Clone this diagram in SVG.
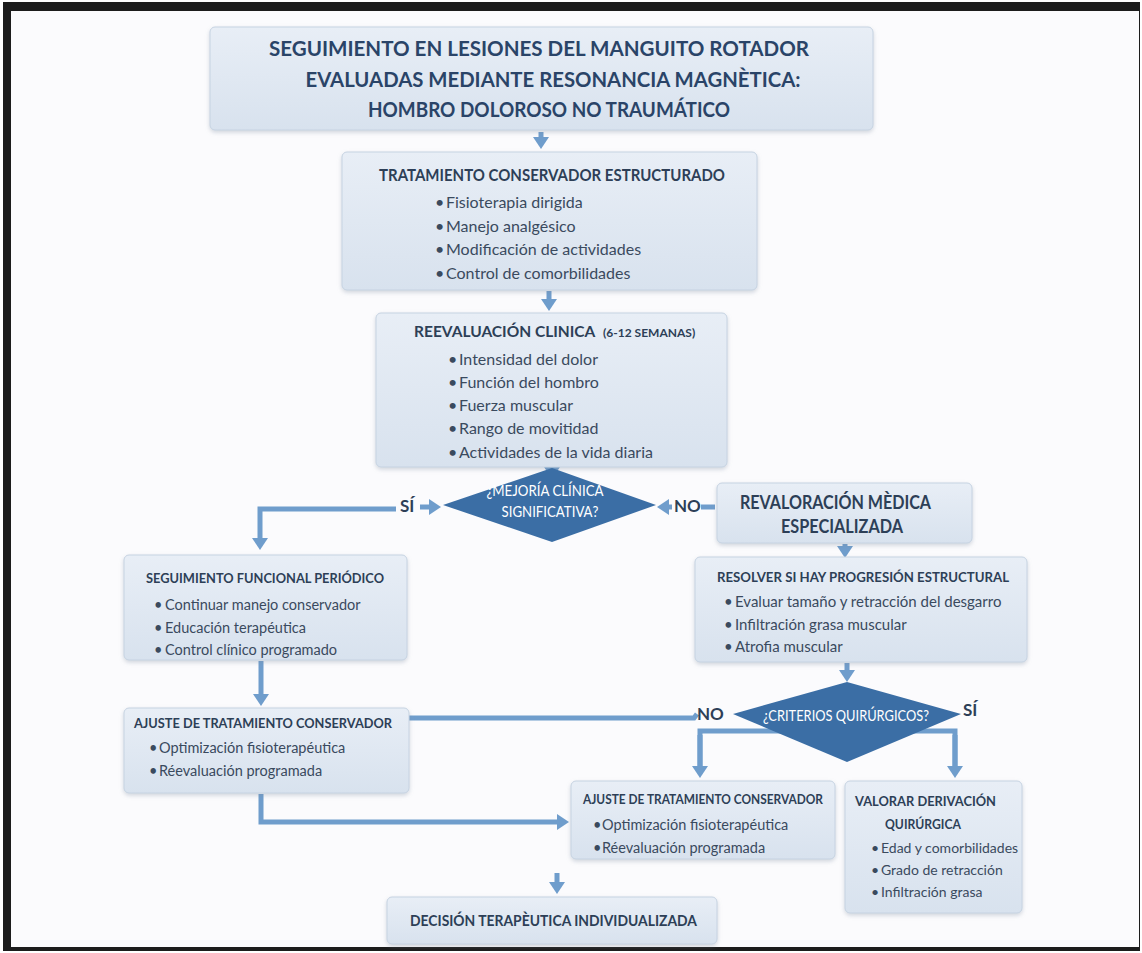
<svg xmlns="http://www.w3.org/2000/svg" width="1142" height="953" viewBox="0 0 1142 953">
<style>
.box{fill:url(#bg);stroke:#c6d3e2;stroke-width:1;filter:url(#sh)}
.h{font-family:Lato,"Open Sans","Liberation Sans",sans-serif;font-weight:700;fill:#2d3f57}
.t{font-family:Lato,"Open Sans","Liberation Sans",sans-serif;font-weight:400;fill:#3a4a5e}
.title{font-family:Lato,"Liberation Sans",sans-serif;font-weight:700;font-size:21px;fill:#2a4468;text-anchor:middle}
.dt{font-family:Lato,"Open Sans","Liberation Sans",sans-serif;font-weight:400;fill:#ffffff;text-anchor:middle}
.lbl{font-family:Lato,"Liberation Sans",sans-serif;font-weight:700;font-size:17px;fill:#2d3f57}
.c{fill:none;stroke:#6f9dcc;stroke-width:5}
.ca{fill:none;stroke:#6f9dcc;stroke-width:5;marker-end:url(#ah)}
.dia{fill:#3b6ea5}
</style>
<defs>
<linearGradient id="bg" x1="0" y1="0" x2="0" y2="1">
<stop offset="0" stop-color="#e8eef6"/>
<stop offset="1" stop-color="#d8e2ee"/>
</linearGradient>
<filter id="sh" x="-10%" y="-10%" width="120%" height="130%">
<feDropShadow dx="0" dy="2" stdDeviation="2" flood-color="#7f8fa3" flood-opacity="0.35"/>
</filter>
<marker id="ah" viewBox="0 0 12 16" refX="0" refY="8" markerWidth="12" markerHeight="16" markerUnits="userSpaceOnUse" orient="auto">
<path d="M0,0 L12,8 L0,16 z" fill="#6f9dcc"/>
</marker>
</defs>

<rect x="0" y="0" width="1142" height="953" fill="#ffffff"/>
<rect x="3" y="2" width="1137" height="949" fill="#1c1c1c"/>
<rect x="11" y="11" width="1128" height="936" fill="#fbfbfd"/>

<g id="connectors">
<path class="ca" d="M541,132 V137"/>
<path class="ca" d="M549,291 V299"/>
<path class="ca" d="M552,463 V467"/>
<path class="ca" d="M396,509 H260 V538"/>
<path class="ca" d="M420,507 H429"/>
<path class="c" d="M701,507 H715"/>
<path class="ca" d="M672,507 H669"/>
<path class="ca" d="M845,544 V546"/>
<path class="ca" d="M847,663 V670"/>
<path class="c" d="M409,718 H694 L697,714"/>
<path class="c" d="M700,766 V731 H955 V766"/>
<path class="ca" d="M700,735 V766"/>
<path class="ca" d="M955,735 V766"/>
<path class="ca" d="M261,661 V694"/>
<path class="ca" d="M261,794 V822 H557"/>
<path class="ca" d="M557,873 V882"/>
</g>

<g id="n_title">
<rect class="box" x="210" y="27" width="663" height="103" rx="5"/>
<text class="title" x="539" y="56" textLength="540" lengthAdjust="spacingAndGlyphs">SEGUIMIENTO EN LESIONES DEL MANGUITO ROTADOR</text>
<text class="title" x="553" y="87" textLength="495" lengthAdjust="spacingAndGlyphs">EVALUADAS MEDIANTE RESONANCIA MAGNÈTICA:</text>
<text class="title" x="549" y="117" textLength="362" lengthAdjust="spacingAndGlyphs">HOMBRO DOLOROSO NO TRAUMÁTICO</text>
</g>

<g id="n_tratamiento">
<rect class="box" x="342" y="152" width="415" height="138" rx="5"/>
<text class="h" x="379" y="181" font-size="17" textLength="346" lengthAdjust="spacingAndGlyphs">TRATAMIENTO CONSERVADOR ESTRUCTURADO</text>
<text class="t" font-size="16"><tspan x="435" y="208">•</tspan><tspan x="446" y="208">Fisioterapia dirigida</tspan></text>
<text class="t" font-size="16"><tspan x="435" y="232">•</tspan><tspan x="446" y="232">Manejo analgésico</tspan></text>
<text class="t" font-size="16"><tspan x="435" y="255">•</tspan><tspan x="446" y="255">Modificación de actividades</tspan></text>
<text class="t" font-size="16"><tspan x="435" y="279">•</tspan><tspan x="446" y="279">Control de comorbilidades</tspan></text>
</g>

<g id="n_reevaluacion">
<rect class="box" x="376" y="313" width="351" height="154" rx="5"/>
<text class="h" x="414" y="337" font-size="15.5">REEVALUACIÓN CLINICA</text>
<text class="h" x="603" y="337" font-size="12">(6-12 SEMANAS)</text>
<text class="t" font-size="16"><tspan x="448" y="365">•</tspan><tspan x="459" y="365">Intensidad del dolor</tspan></text>
<text class="t" font-size="16"><tspan x="448" y="388">•</tspan><tspan x="459" y="388">Función del hombro</tspan></text>
<text class="t" font-size="16"><tspan x="448" y="411">•</tspan><tspan x="459" y="411">Fuerza muscular</tspan></text>
<text class="t" font-size="16"><tspan x="448" y="434">•</tspan><tspan x="459" y="434">Rango de movitidad</tspan></text>
<text class="t" font-size="16"><tspan x="448" y="458">•</tspan><tspan x="459" y="458">Actividades de la vida diaria</tspan></text>
</g>

<g id="n_mejoria">
<polygon class="dia" points="443,505 552,468 656,505 552,542"/>
<text class="dt" x="545" y="496" font-size="16" textLength="117" lengthAdjust="spacingAndGlyphs">¿MEJORÍA CLÍNICA</text>
<text class="dt" x="550" y="517" font-size="16" textLength="97" lengthAdjust="spacingAndGlyphs">SIGNIFICATIVA?</text>
<text class="lbl" x="400" y="512">SÍ</text>
<text class="lbl" x="674" y="512">NO</text>
</g>

<g id="n_revaloracion">
<rect class="box" x="717" y="483" width="255" height="60" rx="5"/>
<text class="h" x="740" y="509" font-size="18" font-weight="600" textLength="191" lengthAdjust="spacingAndGlyphs">REVALORACIÓN MÈDICA</text>
<text class="h" x="781" y="533" font-size="18" font-weight="600" textLength="122" lengthAdjust="spacingAndGlyphs">ESPECIALIZADA</text>
</g>

<g id="n_seguimiento">
<rect class="box" x="124" y="555" width="283" height="105" rx="5"/>
<text class="h" x="146" y="583" font-size="14" textLength="238" lengthAdjust="spacingAndGlyphs">SEGUIMIENTO FUNCIONAL PERIÓDICO</text>
<text class="t" font-size="14.5"><tspan x="154" y="610">•</tspan><tspan x="165" y="610">Continuar manejo conservador</tspan></text>
<text class="t" font-size="14.5"><tspan x="154" y="633">•</tspan><tspan x="165" y="633">Educación terapéutica</tspan></text>
<text class="t" font-size="14.5"><tspan x="154" y="655">•</tspan><tspan x="165" y="655">Control clínico programado</tspan></text>
</g>

<g id="n_resolver">
<rect class="box" x="695" y="557" width="332" height="105" rx="5"/>
<text class="h" x="717" y="582" font-size="14" textLength="292" lengthAdjust="spacingAndGlyphs">RESOLVER SI HAY PROGRESIÓN ESTRUCTURAL</text>
<text class="t" font-size="15"><tspan x="724" y="607">•</tspan><tspan x="735" y="607">Evaluar tamaño y retracción del desgarro</tspan></text>
<text class="t" font-size="15"><tspan x="724" y="630">•</tspan><tspan x="735" y="630">Infiltración grasa muscular</tspan></text>
<text class="t" font-size="15"><tspan x="724" y="652">•</tspan><tspan x="735" y="652">Atrofia muscular</tspan></text>
</g>

<g id="n_criterios">
<polygon class="dia" points="733,714 847,682 961,714 847,762"/>
<text class="dt" x="846" y="721" font-size="15.5" textLength="166" lengthAdjust="spacingAndGlyphs">¿CRITERIOS QUIRÚRGICOS?</text>
<text class="lbl" x="697" y="720">NO</text>
<text class="lbl" x="963" y="716">SÍ</text>
</g>

<g id="n_ajuste1">
<rect class="box" x="124" y="708" width="285" height="85" rx="5"/>
<text class="h" x="134" y="728" font-size="14" textLength="258" lengthAdjust="spacingAndGlyphs">AJUSTE DE TRATAMIENTO CONSERVADOR</text>
<text class="t" font-size="14.5"><tspan x="149" y="753">•</tspan><tspan x="159" y="753">Optimización fisioterapéutica</tspan></text>
<text class="t" font-size="14.5"><tspan x="149" y="776">•</tspan><tspan x="159" y="776">Réevaluación programada</tspan></text>
</g>

<g id="n_ajuste2">
<rect class="box" x="571" y="781" width="264" height="78" rx="5"/>
<text class="h" x="583" y="804" font-size="14" textLength="240" lengthAdjust="spacingAndGlyphs">AJUSTE DE TRATAMIENTO CONSERVADOR</text>
<text class="t" font-size="14.5"><tspan x="593" y="830">•</tspan><tspan x="602" y="830">Optimización fisioterapéutica</tspan></text>
<text class="t" font-size="14.5"><tspan x="593" y="853">•</tspan><tspan x="602" y="853">Réevaluación programada</tspan></text>
</g>

<g id="n_valorar">
<rect class="box" x="845" y="781" width="177" height="132" rx="5"/>
<text class="h" x="855" y="806" font-size="14" textLength="141" lengthAdjust="spacingAndGlyphs">VALORAR DERIVACIÓN</text>
<text class="h" x="885" y="829" font-size="14" textLength="76" lengthAdjust="spacingAndGlyphs">QUIRÚRGICA</text>
<text class="t" font-size="14"><tspan x="871" y="853">•</tspan><tspan x="881" y="853">Edad y comorbilidades</tspan></text>
<text class="t" font-size="14"><tspan x="871" y="875">•</tspan><tspan x="881" y="875">Grado de retracción</tspan></text>
<text class="t" font-size="14"><tspan x="871" y="897">•</tspan><tspan x="881" y="897">Infiltración grasa</tspan></text>
</g>

<g id="n_decision">
<rect class="box" x="387" y="897" width="330" height="47" rx="5"/>
<text class="h" x="410" y="926" font-size="15" textLength="287" lengthAdjust="spacingAndGlyphs">DECISIÓN TERAPÈUTICA INDIVIDUALIZADA</text>
</g>
</svg>
